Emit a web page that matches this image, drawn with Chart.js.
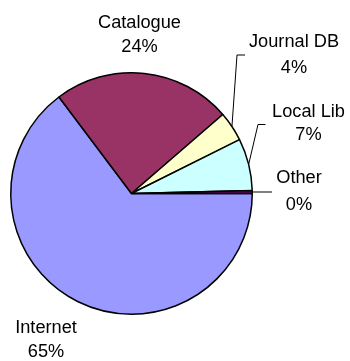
<!DOCTYPE html>
<html>
<head>
<meta charset="utf-8">
<script src="https://cdn.jsdelivr.net/npm/chart.js@4.4.1/dist/chart.umd.min.js"></script>
<style>
  html, body { margin: 0; padding: 0; background: #fff; }
  #wrap { width: 350px; height: 361px; }
</style>
</head>
<body>
<div id="wrap"><canvas id="pie" width="350" height="361"></canvas></div>
<script>
const categories = ['Internet', 'Catalogue', 'Journal DB', 'Local Lib', 'Other'];
const shares = [65, 24, 4, 7, 0.4];
const sliceColors = ['#9999FF', '#993366', '#FFFFCC', '#CCFFFF', '#660066'];

// where each label sits: centre x, baselines of the two lines, optional leader bend/end
const labelLayout = [
  { cx: 46, y1: 333, y2: 357 },
  { cx: 139.5, y1: 28, y2: 52 },
  { cx: 294, y1: 47, y2: 73, bend: [237, 55], end: [245, 55] },
  { cx: 308.5, y1: 117, y2: 140, bend: [258, 124.5], end: [265.5, 124.5] },
  { cx: 299, y1: 183, y2: 210, end: [272, 192] },
];

const total = shares.reduce((a, b) => a + b, 0);
const pct = (v) => Math.round(v / total * 100) + '%';

function drawText(ctx, text, x, y) {
  ctx.save();
  ctx.translate(x, y);
  ctx.scale(1.04, 1);
  ctx.fillText(text, 0, 0);
  ctx.restore();
}

const pieLabels = {
  id: 'pieLabels',
  afterDraw(chart) {
    const ctx = chart.ctx;
    const arcs = chart.getDatasetMeta(0).data;
    ctx.save();
    ctx.font = '17.5px "Liberation Sans", Arial, sans-serif';
    ctx.fillStyle = '#000';
    ctx.textAlign = 'center';
    ctx.textBaseline = 'alphabetic';
    labelLayout.forEach((l, i) => {
      if (l.end) {
        const a = arcs[i];
        const mid = (a.startAngle + a.endAngle) / 2;
        const sx = a.x + Math.cos(mid) * a.outerRadius;
        const sy = a.y + Math.sin(mid) * a.outerRadius;
        ctx.beginPath();
        ctx.strokeStyle = '#000';
        ctx.lineWidth = 1;
        ctx.moveTo(sx, sy);
        if (l.bend) ctx.lineTo(l.bend[0], l.bend[1]);
        ctx.lineTo(l.end[0], l.end[1]);
        ctx.stroke();
      }
      drawText(ctx, categories[i], l.cx, l.y1);
      drawText(ctx, pct(shares[i]), l.cx, l.y2);
    });
    ctx.restore();
  }
};

new Chart(document.getElementById('pie'), {
  type: 'pie',
  data: {
    labels: categories,
    datasets: [{
      data: shares,
      backgroundColor: sliceColors,
      borderColor: '#000',
      borderWidth: 1.5,
    }],
  },
  options: {
    responsive: false,
    animation: false,
    rotation: 90,
    layout: { padding: { left: 10, right: 97, top: 72, bottom: 46 } },
    plugins: {
      legend: { display: false },
      tooltip: { enabled: false },
    },
  },
  plugins: [pieLabels],
});
</script>
</body>
</html>
